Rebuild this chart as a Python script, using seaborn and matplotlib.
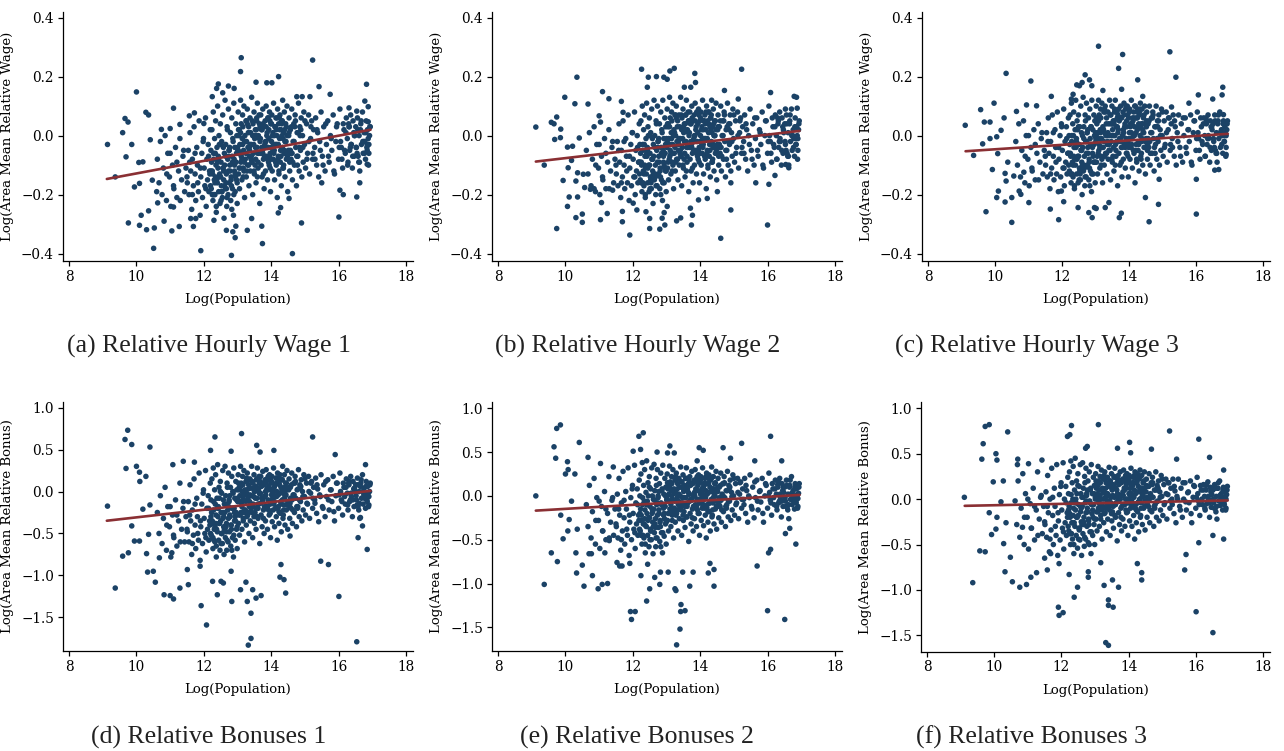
import matplotlib
matplotlib.use("Agg")
import matplotlib.pyplot as plt
import pandas as pd
import seaborn as sns
from matplotlib.ticker import FuncFormatter

# Log population of the areas (shared by every panel), grouped in rows of ten
core_x = [
    10.62, 10.67, 10.71, 10.76, 10.8, 10.85, 10.89, 10.93, 10.98, 11.02,
    11.07, 11.11, 11.16, 11.2, 11.25, 11.29, 11.34, 11.38, 11.43, 11.47,
    11.51, 11.54, 11.56, 11.59, 11.61, 11.64, 11.66, 11.69, 11.71, 11.74,
    11.76, 11.79, 11.81, 11.84, 11.86, 11.89, 11.91, 11.94, 11.96, 11.99,
    12.01, 12.03, 12.05, 12.07, 12.09, 12.11, 12.13, 12.15, 12.17, 12.19,
    12.21, 12.22, 12.24, 12.25, 12.27, 12.28, 12.29, 12.31, 12.32, 12.33,
    12.35, 12.36, 12.37, 12.39, 12.4, 12.41, 12.43, 12.44, 12.45, 12.47,
    12.48, 12.49, 12.51, 12.52, 12.53, 12.55, 12.56, 12.57, 12.59, 12.6,
    12.61, 12.63, 12.64, 12.65, 12.67, 12.68, 12.69, 12.71, 12.72, 12.73,
    12.75, 12.76, 12.77, 12.79, 12.8, 12.81, 12.83, 12.84, 12.85, 12.87,
    12.88, 12.89, 12.91, 12.92, 12.93, 12.95, 12.96, 12.97, 12.98, 12.99,
    13.01, 13.02, 13.03, 13.05, 13.06, 13.07, 13.09, 13.1, 13.11, 13.13,
    13.14, 13.15, 13.17, 13.18, 13.19, 13.21, 13.22, 13.23, 13.25, 13.26,
    13.27, 13.29, 13.3, 13.31, 13.33, 13.34, 13.35, 13.37, 13.38, 13.39,
    13.41, 13.42, 13.43, 13.45, 13.46, 13.47, 13.49, 13.5, 13.51, 13.53,
    13.54, 13.55, 13.57, 13.58, 13.59, 13.61, 13.62, 13.63, 13.65, 13.66,
    13.67, 13.69, 13.7, 13.71, 13.73, 13.74, 13.75, 13.77, 13.78, 13.79,
    13.81, 13.82, 13.83, 13.85, 13.86, 13.87, 13.89, 13.9, 13.91, 13.93,
    13.94, 13.95, 13.97, 13.98, 13.99, 14.01, 14.02, 14.03, 14.05, 14.06,
    14.07, 14.09, 14.1, 14.11, 14.13, 14.14, 14.15, 14.17, 14.18, 14.19,
    14.21, 14.22, 14.23, 14.25, 14.26, 14.27, 14.29, 14.3, 14.31, 14.33,
    14.34, 14.35, 14.37, 14.38, 14.39, 14.41, 14.42, 14.43, 14.45, 14.47,
    14.49, 14.51, 14.53, 14.55, 14.57, 14.59, 14.61, 14.63, 14.65, 14.67,
    14.69, 14.71, 14.73, 14.75, 14.77, 14.79, 14.81, 14.83, 14.85, 14.87,
    14.89, 14.91, 14.93, 14.95, 14.97, 14.99, 15.02, 15.05, 15.08, 15.11,
    15.14, 15.17, 15.2, 15.23, 15.26, 15.29, 15.32, 15.35, 15.38, 15.41,
    15.44, 15.48, 15.52, 15.56, 15.6, 15.64, 15.68, 15.72, 15.76, 15.8,
    15.84, 15.88, 15.92, 15.96, 16.0, 16.04, 16.08, 16.12, 16.16, 16.2,
    16.23, 16.26, 16.28, 16.31, 16.33, 16.36, 16.38, 16.41, 16.43, 16.46,
    16.48, 16.51, 16.53, 16.56, 16.58, 16.61, 16.63, 16.66, 16.68, 16.71,
    16.73, 16.76, 16.78, 16.8, 16.82, 16.84, 16.86, 16.88, 16.9, 16.93,
    12.5, 12.54, 12.58, 12.62, 12.66, 12.7, 12.74, 12.78, 12.82, 12.86,
    12.9, 12.94, 13.0, 13.04, 13.08, 13.12, 13.16, 13.2, 13.24, 13.28,
    13.32, 13.36, 13.4, 13.44, 13.48, 13.52, 13.56, 13.6, 13.64, 13.68,
    13.72, 13.76, 13.8, 13.84, 13.88, 13.92, 13.96, 14.0, 14.04, 14.08,
    14.12, 14.16, 14.2, 14.24, 14.28, 14.32, 14.36, 14.4, 14.44, 14.48,
    14.52, 14.56, 14.6, 14.64, 14.68, 14.72, 14.76, 14.8, 14.84, 14.88,
    16.35, 16.45, 16.55, 16.65, 16.75, 16.85, 16.92, 16.3, 16.6, 16.9,
    12.2, 12.23, 12.26, 12.3, 12.34, 12.38, 12.42, 12.46, 13.02, 13.5,
    12.21, 12.25, 12.29, 12.33, 12.37, 12.41, 12.45, 12.49, 12.53, 12.57,
    12.61, 12.65, 12.69, 12.73, 12.77, 12.81, 12.85, 12.89, 12.93, 12.97,
    13.01, 13.05, 13.09, 13.13, 13.17, 13.21, 13.25, 13.29, 13.33, 13.37,
    13.41, 13.45, 13.49, 13.53, 13.57, 13.61, 13.65, 13.69, 13.73, 13.77,
    13.81, 13.85, 13.89, 13.93, 13.97, 14.01, 14.05, 14.09, 14.13, 14.17,
    14.21, 14.25, 14.29, 14.33, 14.37, 14.41, 14.45, 14.49, 14.53, 14.57,
    13.03, 13.11, 13.19, 13.27, 13.35, 13.43, 13.51, 13.59, 13.67, 13.75,
    13.83, 13.91, 13.99, 14.07, 14.15, 14.23, 14.31, 14.39, 14.47, 14.55,
    14.62, 14.7, 14.78, 14.86, 14.94, 15.0, 15.06, 15.12, 15.18, 15.24,
    15.3, 15.36, 15.46, 15.54, 15.62, 15.7, 15.78, 15.86, 15.94, 16.02,
    16.06, 16.1, 16.14, 16.18, 16.22, 16.27, 16.32, 16.37, 16.42, 16.47,
    16.52, 16.57, 16.62, 16.67, 16.72, 16.77, 16.81, 16.85, 16.89, 16.94,
    11.5, 11.58, 11.66, 11.74, 11.82, 11.9, 11.98, 12.06, 12.14, 12.18,
    12.27, 12.35, 12.43, 12.51, 12.59, 12.67, 12.75, 12.83, 12.91, 12.99,
    10.9, 11.0, 11.1, 11.2, 11.3, 11.4, 13.15, 13.55, 13.95, 14.35,
]

wage1_core = [
    -0.08, -0.16, -0.02, -0.2, -0.11, 0.0, -0.22, -0.06, -0.14, -0.24,
    -0.1, -0.18, -0.04, -0.21, -0.12, -0.01, -0.15, -0.07, -0.19, -0.11,
    -0.16, -0.05, -0.2, 0.01, -0.12, -0.25, -0.08, -0.17, 0.03, -0.13,
    -0.22, -0.04, -0.1, -0.19, 0.05, -0.27, -0.14, -0.06, -0.21, -0.01,
    -0.11, -0.17, 0.06, -0.24, -0.08, -0.15, -0.03, -0.19, -0.12, 0.02,
    -0.05, -0.18, 0.02, -0.12, -0.22, 0.08, -0.08, -0.15, -0.01, -0.2,
    0.05, -0.1, -0.26, -0.04, -0.16, 0.1, -0.07, -0.19, 0.0, -0.13,
    -0.23, 0.04, -0.09, -0.17, -0.02, -0.21, 0.07, -0.11, -0.15, -0.28,
    -0.06, 0.12, -0.18, -0.03, -0.13, -0.24, 0.03, -0.08, -0.2, 0.09,
    -0.05, -0.16, -0.1, 0.01, -0.22, -0.14, 0.06, -0.07, -0.18, -0.02,
    -0.27, 0.11, -0.12, -0.04, -0.19, 0.04, -0.09, -0.15, 0.0, -0.23,
    -0.06, 0.08, -0.13, 0.02, -0.18, -0.03, 0.12, -0.09, 0.04, -0.15,
    -0.01, 0.07, -0.11, -0.05, 0.1, -0.21, 0.0, -0.08, 0.05, -0.14,
    -0.02, 0.09, -0.1, -0.04, 0.03, -0.17, -0.07, 0.06, -0.12, 0.01,
    -0.03, 0.13, -0.09, -0.2, 0.04, -0.06, 0.08, -0.13, -0.01, 0.02,
    -0.08, -0.16, 0.06, -0.04, 0.11, -0.11, 0.0, -0.06, 0.04, -0.23,
    -0.02, 0.07, -0.1, 0.02, -0.14, -0.05, 0.09, -0.08, 0.03, -0.18,
    -0.03, 0.05, -0.12, 0.1, -0.07, 0.0, -0.15, 0.06, -0.04, 0.02,
    -0.1, 0.08, -0.06, -0.19, 0.04, -0.02, 0.07, -0.12, 0.01, -0.08,
    0.11, -0.05, -0.15, 0.03, -0.03, 0.06, -0.1, 0.0, -0.21, 0.09,
    -0.07, 0.04, -0.13, -0.01, 0.07, -0.09, 0.02, -0.17, 0.05, -0.04,
    0.12, -0.11, 0.01, -0.06, 0.08, -0.14, -0.02, 0.04, -0.08, 0.1,
    -0.19, -0.05, 0.06, -0.12, 0.02, -0.08, 0.09, -0.15, -0.02, 0.04,
    -0.1, 0.07, -0.04, -0.17, 0.01, -0.07, 0.11, -0.12, 0.03, -0.05,
    0.06, -0.14, 0.0, -0.09, 0.08, -0.03, -0.11, 0.04, -0.06, 0.07,
    -0.13, -0.01, 0.05, -0.08, 0.02, -0.04, 0.06, -0.1, 0.01, -0.14,
    -0.02, 0.08, -0.07, 0.03, -0.12, -0.03, 0.05, -0.09, 0.0, -0.05,
    0.07, -0.13, -0.02, 0.04, -0.08, 0.09, -0.04, -0.11, 0.02, -0.06,
    0.06, -0.01, -0.09, 0.03, -0.05, 0.07, -0.03, -0.11, 0.05, -0.07,
    0.0, 0.03, -0.04, 0.06, -0.07, 0.0, -0.12, 0.04, -0.03, 0.08,
    -0.06, 0.01, -0.02, -0.08, 0.05, -0.04, 0.02, -0.01, -0.06, 0.03,
    -0.14, -0.19, -0.04, -0.1, -0.16, 0.02, -0.07, -0.12, -0.17, -0.01,
    -0.08, -0.14, -0.04, 0.0, -0.11, -0.06, 0.03, -0.09, -0.02, -0.12,
    0.01, -0.05, -0.08, 0.05, -0.03, -0.1, 0.02, -0.06, 0.07, -0.01,
    -0.04, 0.04, -0.07, -0.02, 0.01, -0.09, 0.05, -0.04, 0.0, -0.06,
    0.03, -0.03, -0.08, 0.06, -0.05, 0.0, -0.11, 0.02, -0.02, -0.07,
    0.0, -0.06, 0.03, -0.09, -0.02, 0.05, -0.07, 0.01, -0.04, 0.02,
    -0.04, 0.01, -0.06, 0.02, -0.02, -0.05, 0.0, 0.04, -0.09, -0.03,
    -0.17, -0.09, -0.13, -0.2, -0.06, -0.15, -0.11, -0.03, -0.05, 0.0,
    -0.12, -0.2, -0.06, -0.16, -0.24, -0.09, -0.14, -0.03, -0.19, -0.11,
    -0.17, -0.07, -0.21, -0.12, -0.04, -0.15, -0.09, -0.2, -0.13, -0.06,
    -0.05, -0.11, 0.01, -0.08, -0.14, -0.02, -0.06, 0.04, -0.1, -0.03,
    -0.07, 0.0, -0.12, -0.04, 0.05, -0.09, -0.01, -0.06, 0.02, -0.13,
    -0.04, 0.03, -0.08, -0.01, -0.11, 0.04, -0.05, 0.0, -0.09, 0.06,
    -0.03, 0.02, -0.07, 0.05, -0.1, -0.02, 0.03, -0.06, 0.01, -0.05,
    0.02, -0.07, -0.12, 0.05, -0.04, -0.09, 0.0, -0.14, 0.03, -0.06,
    -0.02, 0.06, -0.08, -0.03, 0.02, -0.12, 0.04, -0.05, 0.0, -0.09,
    -0.06, 0.03, -0.1, 0.0, -0.04, 0.05, -0.08, -0.02, 0.03, -0.06,
    -0.08, 0.02, -0.05, -0.1, 0.04, -0.07, -0.01, -0.12, 0.03, -0.04,
    -0.02, -0.08, 0.04, -0.05, 0.01, -0.1, 0.03, -0.03, -0.07, 0.0,
    -0.04, 0.02, -0.09, 0.05, -0.02, -0.06, 0.01, -0.03, -0.1, 0.03,
    -0.14, -0.09, -0.2, -0.06, -0.16, -0.11, -0.02, -0.18, -0.07, -0.13,
    -0.2, -0.14, -0.08, -0.22, -0.12, -0.18, -0.05, -0.25, -0.1, -0.16,
    -0.13, -0.06, -0.17, -0.09, -0.22, -0.05, -0.03, 0.0, -0.07, -0.01,
]

wage2_core = [
    -0.05, -0.13, 0.01, -0.17, -0.08, 0.03, -0.19, -0.03, -0.11, -0.2,
    -0.07, -0.15, -0.01, -0.18, -0.09, 0.02, -0.12, -0.04, -0.16, -0.08,
    -0.13, -0.02, -0.17, 0.04, -0.09, -0.21, -0.05, -0.14, 0.05, -0.1,
    -0.18, -0.01, -0.07, -0.16, 0.07, -0.22, -0.11, -0.03, -0.17, 0.01,
    -0.08, -0.14, 0.08, -0.2, -0.05, -0.12, 0.0, -0.16, -0.09, 0.04,
    -0.03, -0.15, 0.05, -0.09, -0.19, 0.1, -0.05, -0.12, 0.02, -0.17,
    0.07, -0.07, -0.21, -0.01, -0.13, 0.11, -0.04, -0.16, 0.03, -0.1,
    -0.19, 0.06, -0.06, -0.14, 0.01, -0.18, 0.09, -0.08, -0.12, -0.23,
    -0.03, 0.12, -0.15, 0.0, -0.1, -0.2, 0.05, -0.05, -0.17, 0.1,
    -0.02, -0.13, -0.07, 0.04, -0.18, -0.11, 0.08, -0.04, -0.15, 0.01,
    -0.22, 0.12, -0.09, -0.01, -0.16, 0.06, -0.06, -0.12, 0.03, -0.19,
    -0.04, 0.09, -0.11, 0.04, -0.15, -0.01, 0.13, -0.07, 0.06, -0.13,
    0.01, 0.08, -0.09, -0.03, 0.11, -0.18, 0.02, -0.06, 0.07, -0.12,
    0.0, 0.1, -0.08, -0.02, 0.05, -0.15, -0.05, 0.07, -0.1, 0.03,
    -0.01, 0.13, -0.07, -0.17, 0.06, -0.04, 0.09, -0.11, 0.01, 0.04,
    -0.06, -0.14, 0.07, -0.02, 0.12, -0.09, 0.02, -0.04, 0.05, -0.19,
    0.0, 0.08, -0.08, 0.04, -0.12, -0.03, 0.1, -0.06, 0.05, -0.16,
    -0.01, 0.07, -0.1, 0.11, -0.05, 0.02, -0.13, 0.08, -0.02, 0.04,
    -0.08, 0.09, -0.04, -0.16, 0.05, 0.0, 0.08, -0.1, 0.03, -0.06,
    0.12, -0.03, -0.13, 0.05, -0.01, 0.07, -0.08, 0.02, -0.18, 0.1,
    -0.05, 0.05, -0.11, 0.01, 0.08, -0.07, 0.03, -0.14, 0.06, -0.02,
    0.12, -0.09, 0.03, -0.04, 0.09, -0.12, 0.0, 0.05, -0.06, 0.11,
    -0.15, -0.03, 0.07, -0.1, 0.03, -0.06, 0.1, -0.12, 0.0, 0.05,
    -0.08, 0.08, -0.02, -0.14, 0.02, -0.05, 0.11, -0.1, 0.04, -0.03,
    0.07, -0.12, 0.01, -0.07, 0.09, -0.01, -0.09, 0.05, -0.04, 0.08,
    -0.11, 0.01, 0.06, -0.06, 0.03, -0.02, 0.07, -0.08, 0.02, -0.12,
    0.0, 0.09, -0.05, 0.04, -0.1, -0.01, 0.06, -0.07, 0.02, -0.03,
    0.08, -0.11, 0.0, 0.05, -0.06, 0.1, -0.02, -0.09, 0.03, -0.04,
    0.07, 0.0, -0.08, 0.04, -0.04, 0.08, -0.02, -0.1, 0.06, -0.06,
    0.01, 0.04, -0.03, 0.07, -0.06, 0.01, -0.1, 0.05, -0.02, 0.09,
    -0.05, 0.02, -0.01, -0.07, 0.06, -0.03, 0.03, 0.0, -0.05, 0.04,
    -0.1, -0.16, -0.01, -0.07, -0.13, 0.04, -0.04, -0.09, -0.14, 0.02,
    -0.05, -0.11, -0.01, 0.03, -0.08, -0.03, 0.05, -0.06, 0.01, -0.09,
    0.03, -0.03, -0.06, 0.07, -0.01, -0.08, 0.04, -0.04, 0.08, 0.01,
    -0.02, 0.06, -0.05, 0.0, 0.03, -0.07, 0.07, -0.02, 0.02, -0.04,
    0.05, -0.01, -0.06, 0.08, -0.03, 0.02, -0.09, 0.04, 0.0, -0.05,
    0.02, -0.04, 0.05, -0.07, 0.0, 0.07, -0.05, 0.03, -0.02, 0.04,
    -0.02, 0.03, -0.05, 0.04, 0.0, -0.03, 0.02, 0.06, -0.07, -0.01,
    -0.13, -0.06, -0.1, -0.16, -0.03, -0.11, -0.07, 0.0, -0.02, 0.03,
    -0.09, -0.16, -0.03, -0.13, -0.2, -0.06, -0.11, 0.0, -0.15, -0.08,
    -0.13, -0.04, -0.17, -0.09, -0.01, -0.12, -0.06, -0.16, -0.1, -0.03,
    -0.03, -0.09, 0.03, -0.06, -0.12, 0.0, -0.04, 0.06, -0.08, -0.01,
    -0.05, 0.02, -0.1, -0.02, 0.07, -0.07, 0.01, -0.04, 0.04, -0.11,
    -0.02, 0.05, -0.06, 0.01, -0.09, 0.06, -0.03, 0.02, -0.07, 0.08,
    -0.01, 0.04, -0.05, 0.07, -0.08, 0.0, 0.05, -0.04, 0.03, -0.03,
    0.04, -0.05, -0.1, 0.07, -0.02, -0.07, 0.02, -0.12, 0.05, -0.04,
    0.0, 0.08, -0.06, -0.01, 0.04, -0.1, 0.06, -0.03, 0.02, -0.07,
    -0.04, 0.05, -0.08, 0.02, -0.02, 0.07, -0.06, 0.0, 0.05, -0.04,
    -0.06, 0.04, -0.03, -0.08, 0.06, -0.05, 0.01, -0.1, 0.05, -0.02,
    0.0, -0.06, 0.06, -0.03, 0.03, -0.08, 0.05, -0.01, -0.05, 0.02,
    -0.02, 0.04, -0.07, 0.07, 0.0, -0.04, 0.03, -0.01, -0.08, 0.05,
    -0.1, -0.05, -0.16, -0.02, -0.12, -0.07, 0.01, -0.14, -0.04, -0.09,
    -0.16, -0.1, -0.05, -0.18, -0.08, -0.14, -0.02, -0.2, -0.07, -0.12,
    -0.1, -0.03, -0.14, -0.06, -0.18, -0.02, -0.01, 0.02, -0.05, 0.01,
]

wage3_core = [
    -0.02, -0.1, 0.04, -0.14, -0.05, 0.05, -0.16, 0.0, -0.08, -0.17,
    -0.04, -0.12, 0.02, -0.15, -0.06, 0.04, -0.09, -0.01, -0.13, -0.05,
    -0.1, 0.01, -0.14, 0.06, -0.06, -0.18, -0.02, -0.11, 0.07, -0.07,
    -0.15, 0.02, -0.04, -0.13, 0.08, -0.19, -0.08, 0.0, -0.14, 0.03,
    -0.05, -0.11, 0.09, -0.17, -0.02, -0.09, 0.03, -0.13, -0.06, 0.06,
    0.0, -0.12, 0.07, -0.06, -0.16, 0.11, -0.02, -0.09, 0.04, -0.14,
    0.08, -0.04, -0.18, 0.02, -0.1, 0.12, -0.01, -0.13, 0.05, -0.07,
    -0.16, 0.07, -0.03, -0.11, 0.03, -0.15, 0.1, -0.05, -0.09, -0.2,
    0.0, 0.13, -0.12, 0.03, -0.07, -0.17, 0.07, -0.02, -0.14, 0.11,
    0.01, -0.1, -0.04, 0.06, -0.15, -0.08, 0.09, -0.01, -0.12, 0.03,
    -0.19, 0.12, -0.06, 0.02, -0.13, 0.07, -0.03, -0.09, 0.05, -0.16,
    -0.02, 0.1, -0.09, 0.05, -0.13, 0.01, 0.12, -0.05, 0.07, -0.11,
    0.02, 0.09, -0.07, -0.01, 0.11, -0.16, 0.03, -0.04, 0.08, -0.1,
    0.01, 0.1, -0.06, 0.0, 0.06, -0.13, -0.03, 0.08, -0.08, 0.04,
    0.0, 0.12, -0.05, -0.15, 0.07, -0.02, 0.1, -0.09, 0.02, 0.05,
    -0.04, -0.12, 0.08, 0.0, 0.12, -0.07, 0.03, -0.02, 0.06, -0.17,
    0.01, 0.09, -0.06, 0.05, -0.1, -0.01, 0.1, -0.04, 0.06, -0.14,
    0.0, 0.08, -0.08, 0.11, -0.03, 0.03, -0.11, 0.09, -0.01, 0.05,
    -0.06, 0.1, -0.02, -0.14, 0.06, 0.01, 0.09, -0.08, 0.04, -0.04,
    0.12, -0.01, -0.11, 0.06, 0.0, 0.08, -0.06, 0.03, -0.16, 0.1,
    -0.03, 0.06, -0.09, 0.02, 0.09, -0.05, 0.04, -0.12, 0.07, 0.0,
    0.11, -0.07, 0.04, -0.02, 0.09, -0.1, 0.01, 0.06, -0.04, 0.1,
    -0.13, -0.01, 0.08, -0.08, 0.04, -0.04, 0.1, -0.1, 0.01, 0.06,
    -0.06, 0.08, -0.01, -0.12, 0.03, -0.03, 0.1, -0.08, 0.05, -0.02,
    0.07, -0.1, 0.02, -0.05, 0.09, 0.0, -0.07, 0.05, -0.03, 0.08,
    -0.09, 0.02, 0.06, -0.05, 0.04, -0.01, 0.07, -0.07, 0.03, -0.1,
    0.01, 0.07, -0.04, 0.04, -0.09, 0.0, 0.06, -0.06, 0.02, -0.02,
    0.07, -0.1, 0.01, 0.05, -0.05, 0.08, -0.01, -0.08, 0.03, -0.03,
    0.06, 0.0, -0.07, 0.04, -0.03, 0.07, -0.01, -0.09, 0.05, -0.05,
    0.02, 0.04, -0.02, 0.07, -0.05, 0.01, -0.09, 0.05, -0.01, 0.08,
    -0.04, 0.02, 0.0, -0.06, 0.05, -0.02, 0.03, 0.01, -0.04, 0.04,
    -0.07, -0.13, 0.01, -0.04, -0.1, 0.05, -0.02, -0.06, -0.11, 0.03,
    -0.03, -0.09, 0.01, 0.04, -0.06, -0.01, 0.06, -0.04, 0.02, -0.07,
    0.04, -0.02, -0.05, 0.07, 0.0, -0.07, 0.05, -0.03, 0.08, 0.02,
    -0.01, 0.06, -0.04, 0.01, 0.04, -0.06, 0.07, -0.01, 0.03, -0.03,
    0.05, 0.0, -0.05, 0.08, -0.02, 0.03, -0.08, 0.04, 0.01, -0.04,
    0.03, -0.03, 0.05, -0.06, 0.01, 0.07, -0.04, 0.03, -0.01, 0.05,
    -0.01, 0.03, -0.04, 0.04, 0.01, -0.02, 0.02, 0.06, -0.06, 0.0,
    -0.1, -0.03, -0.07, -0.13, 0.0, -0.08, -0.04, 0.02, 0.0, 0.04,
    -0.06, -0.13, 0.0, -0.1, -0.17, -0.03, -0.08, 0.03, -0.12, -0.05,
    -0.1, -0.01, -0.14, -0.06, 0.02, -0.09, -0.03, -0.13, -0.07, 0.0,
    -0.01, -0.07, 0.05, -0.04, -0.1, 0.02, -0.02, 0.08, -0.06, 0.01,
    -0.03, 0.04, -0.08, 0.0, 0.09, -0.05, 0.03, -0.02, 0.06, -0.09,
    0.0, 0.07, -0.04, 0.03, -0.07, 0.08, -0.01, 0.04, -0.05, 0.1,
    0.01, 0.06, -0.03, 0.09, -0.06, 0.02, 0.07, -0.02, 0.05, -0.01,
    0.06, -0.03, -0.08, 0.09, 0.0, -0.05, 0.04, -0.1, 0.07, -0.02,
    0.02, 0.1, -0.04, 0.01, 0.06, -0.08, 0.08, -0.01, 0.04, -0.05,
    -0.02, 0.06, -0.06, 0.03, 0.0, 0.08, -0.04, 0.01, 0.06, -0.03,
    -0.04, 0.05, -0.02, -0.07, 0.06, -0.04, 0.02, -0.09, 0.05, -0.01,
    0.01, -0.05, 0.06, -0.02, 0.04, -0.07, 0.05, 0.0, -0.04, 0.03,
    -0.01, 0.05, -0.06, 0.07, 0.01, -0.03, 0.04, 0.0, -0.07, 0.05,
    -0.07, -0.02, -0.13, 0.01, -0.09, -0.04, 0.04, -0.11, -0.01, -0.06,
    -0.13, -0.07, -0.02, -0.15, -0.05, -0.11, 0.01, -0.17, -0.04, -0.09,
    -0.07, 0.0, -0.11, -0.03, -0.15, 0.01, 0.01, 0.04, -0.03, 0.03,
]

bonus1_core = [
    -0.25, -0.5, -0.05, -0.62, -0.32, 0.05, -0.7, -0.18, -0.42, -0.78,
    -0.28, -0.55, -0.1, -0.65, -0.35, 0.1, -0.45, -0.2, -0.6, -0.3,
    -0.48, -0.12, -0.6, 0.08, -0.35, -0.75, -0.22, -0.52, 0.15, -0.4,
    -0.68, -0.08, -0.3, -0.58, 0.22, -0.82, -0.42, -0.15, -0.62, 0.02,
    -0.32, -0.5, 0.25, -0.72, -0.2, -0.45, -0.05, -0.58, -0.35, 0.1,
    -0.1, -0.52, 0.15, -0.35, -0.68, 0.28, -0.22, -0.45, 0.02, -0.6,
    0.2, -0.28, -0.78, -0.08, -0.48, 0.32, -0.18, -0.58, 0.05, -0.38,
    -0.7, 0.12, -0.25, -0.5, -0.02, -0.62, 0.25, -0.32, -0.42, -0.75,
    -0.15, 0.3, -0.55, -0.05, -0.38, -0.7, 0.1, -0.22, -0.6, 0.22,
    -0.12, -0.48, -0.28, 0.05, -0.65, -0.4, 0.18, -0.2, -0.55, -0.02,
    -0.78, 0.28, -0.35, -0.08, -0.58, 0.12, -0.25, -0.45, 0.02, -0.68,
    -0.12, 0.2, -0.38, 0.05, -0.52, -0.05, 0.3, -0.25, 0.1, -0.45,
    0.0, 0.18, -0.32, -0.1, 0.25, -0.6, 0.02, -0.22, 0.12, -0.4,
    -0.02, 0.22, -0.28, -0.08, 0.08, -0.5, -0.18, 0.15, -0.35, 0.04,
    -0.05, 0.3, -0.25, -0.55, 0.1, -0.15, 0.2, -0.38, 0.0, 0.06,
    -0.2, -0.45, 0.15, -0.08, 0.28, -0.32, 0.02, -0.15, 0.1, -0.62,
    -0.03, 0.18, -0.28, 0.06, -0.42, -0.12, 0.24, -0.22, 0.08, -0.5,
    -0.06, 0.14, -0.35, 0.26, -0.18, 0.02, -0.45, 0.16, -0.1, 0.06,
    -0.28, 0.2, -0.15, -0.55, 0.1, -0.04, 0.18, -0.36, 0.03, -0.22,
    0.28, -0.12, -0.42, 0.08, -0.06, 0.16, -0.3, 0.0, -0.58, 0.22,
    -0.18, 0.1, -0.38, -0.02, 0.2, -0.26, 0.05, -0.48, 0.14, -0.1,
    0.3, -0.32, 0.03, -0.16, 0.2, -0.4, -0.05, 0.1, -0.22, 0.25,
    -0.45, -0.12, 0.15, -0.32, 0.05, -0.2, 0.22, -0.38, -0.04, 0.1,
    -0.25, 0.18, -0.08, -0.42, 0.02, -0.18, 0.26, -0.3, 0.08, -0.12,
    0.14, -0.35, 0.0, -0.22, 0.2, -0.06, -0.28, 0.1, -0.15, 0.18,
    -0.32, -0.02, 0.12, -0.2, 0.05, -0.1, 0.16, -0.26, 0.03, -0.36,
    -0.04, 0.2, -0.18, 0.08, -0.3, -0.06, 0.14, -0.22, 0.02, -0.12,
    0.18, -0.35, -0.05, 0.1, -0.2, 0.22, -0.1, -0.28, 0.05, -0.15,
    0.15, -0.02, -0.22, 0.08, -0.12, 0.18, -0.06, -0.3, 0.12, -0.18,
    0.02, 0.08, -0.1, 0.16, -0.18, 0.0, -0.32, 0.1, -0.08, 0.2,
    -0.15, 0.04, -0.05, -0.2, 0.12, -0.1, 0.06, -0.02, -0.16, 0.08,
    -0.35, -0.5, -0.1, -0.25, -0.42, 0.05, -0.18, -0.3, -0.45, 0.0,
    -0.2, -0.35, -0.08, 0.02, -0.28, -0.14, 0.08, -0.22, -0.04, -0.3,
    0.03, -0.12, -0.2, 0.12, -0.06, -0.25, 0.06, -0.15, 0.18, -0.02,
    -0.08, 0.1, -0.18, -0.04, 0.04, -0.22, 0.14, -0.1, 0.0, -0.15,
    0.08, -0.06, -0.2, 0.15, -0.12, 0.02, -0.28, 0.05, -0.04, -0.16,
    0.02, -0.14, 0.08, -0.22, -0.04, 0.12, -0.18, 0.03, -0.1, 0.06,
    -0.1, 0.03, -0.16, 0.06, -0.04, -0.12, 0.0, 0.1, -0.22, -0.06,
    -0.5, -0.25, -0.38, -0.58, -0.15, -0.45, -0.3, -0.08, -0.12, 0.0,
    -0.3, -0.55, -0.12, -0.42, -0.65, -0.2, -0.38, 0.0, -0.5, -0.25,
    -0.45, -0.15, -0.58, -0.32, -0.05, -0.4, -0.2, -0.52, -0.3, -0.1,
    -0.1, -0.28, 0.06, -0.18, -0.35, 0.0, -0.12, 0.12, -0.25, -0.04,
    -0.15, 0.04, -0.3, -0.08, 0.14, -0.2, -0.02, -0.14, 0.08, -0.32,
    -0.06, 0.1, -0.18, 0.02, -0.26, 0.12, -0.08, 0.05, -0.2, 0.16,
    -0.04, 0.08, -0.15, 0.14, -0.22, 0.0, 0.1, -0.12, 0.05, -0.08,
    0.1, -0.12, -0.25, 0.16, -0.05, -0.18, 0.04, -0.3, 0.12, -0.1,
    0.0, 0.18, -0.14, -0.04, 0.1, -0.24, 0.14, -0.08, 0.04, -0.18,
    -0.1, 0.1, -0.2, 0.04, -0.06, 0.15, -0.14, 0.0, 0.1, -0.08,
    -0.14, 0.08, -0.06, -0.2, 0.12, -0.1, 0.02, -0.24, 0.1, -0.04,
    0.0, -0.12, 0.1, -0.06, 0.05, -0.16, 0.12, -0.02, -0.1, 0.04,
    -0.05, 0.08, -0.14, 0.14, 0.0, -0.08, 0.06, -0.02, -0.18, 0.1,
    -0.45, -0.28, -0.62, -0.15, -0.5, -0.35, -0.02, -0.55, -0.2, -0.4,
    -0.55, -0.38, -0.2, -0.62, -0.3, -0.48, -0.1, -0.7, -0.25, -0.42,
    -0.4, -0.18, -0.52, -0.28, -0.6, -0.12, -0.06, 0.02, -0.12, -0.02,
]

bonus2_core = [
    -0.1, -0.35, 0.12, -0.48, -0.18, 0.2, -0.55, -0.02, -0.28, -0.6,
    -0.12, -0.4, 0.05, -0.5, -0.2, 0.22, -0.3, -0.05, -0.45, -0.15,
    -0.35, 0.02, -0.48, 0.2, -0.22, -0.62, -0.08, -0.4, 0.28, -0.25,
    -0.55, 0.05, -0.15, -0.45, 0.32, -0.68, -0.3, -0.02, -0.5, 0.12,
    -0.2, -0.38, 0.35, -0.6, -0.08, -0.32, 0.08, -0.45, -0.22, 0.18,
    0.0, -0.4, 0.25, -0.22, -0.55, 0.38, -0.1, -0.32, 0.12, -0.48,
    0.3, -0.16, -0.65, 0.04, -0.35, 0.4, -0.06, -0.45, 0.15, -0.25,
    -0.58, 0.22, -0.12, -0.38, 0.08, -0.5, 0.32, -0.2, -0.3, -0.66,
    -0.04, 0.36, -0.42, 0.06, -0.26, -0.58, 0.2, -0.1, -0.48, 0.3,
    -0.02, -0.36, -0.16, 0.14, -0.52, -0.28, 0.26, -0.08, -0.42, 0.08,
    -0.65, 0.35, -0.22, 0.02, -0.46, 0.2, -0.12, -0.32, 0.1, -0.55,
    -0.05, 0.25, -0.28, 0.12, -0.4, 0.02, 0.34, -0.15, 0.16, -0.35,
    0.06, 0.22, -0.22, -0.04, 0.3, -0.48, 0.08, -0.14, 0.18, -0.3,
    0.04, 0.26, -0.2, -0.02, 0.14, -0.4, -0.1, 0.2, -0.26, 0.1,
    0.0, 0.33, -0.16, -0.45, 0.16, -0.08, 0.24, -0.28, 0.05, 0.12,
    -0.12, -0.36, 0.2, -0.02, 0.32, -0.24, 0.08, -0.08, 0.14, -0.52,
    0.02, 0.22, -0.2, 0.12, -0.32, -0.05, 0.28, -0.15, 0.14, -0.4,
    0.0, 0.18, -0.26, 0.3, -0.1, 0.08, -0.35, 0.2, -0.04, 0.12,
    -0.2, 0.24, -0.08, -0.45, 0.15, 0.02, 0.22, -0.28, 0.08, -0.14,
    0.32, -0.05, -0.34, 0.14, 0.0, 0.2, -0.22, 0.06, -0.48, 0.26,
    -0.1, 0.14, -0.3, 0.04, 0.24, -0.18, 0.1, -0.4, 0.18, -0.04,
    0.33, -0.24, 0.08, -0.08, 0.22, -0.32, 0.01, 0.14, -0.15, 0.28,
    -0.38, -0.06, 0.2, -0.25, 0.1, -0.12, 0.26, -0.3, 0.02, 0.14,
    -0.18, 0.22, -0.02, -0.35, 0.06, -0.1, 0.28, -0.24, 0.12, -0.06,
    0.18, -0.28, 0.04, -0.16, 0.24, 0.0, -0.22, 0.14, -0.08, 0.2,
    -0.26, 0.02, 0.16, -0.14, 0.08, -0.04, 0.2, -0.2, 0.06, -0.3,
    0.0, 0.24, -0.12, 0.1, -0.25, -0.02, 0.18, -0.16, 0.05, -0.07,
    0.2, -0.3, 0.0, 0.12, -0.14, 0.26, -0.05, -0.22, 0.08, -0.1,
    0.18, 0.02, -0.16, 0.1, -0.08, 0.2, -0.02, -0.24, 0.14, -0.12,
    0.04, 0.1, -0.06, 0.18, -0.13, 0.02, -0.26, 0.12, -0.04, 0.22,
    -0.1, 0.06, -0.02, -0.15, 0.14, -0.06, 0.08, 0.0, -0.12, 0.1,
    -0.25, -0.4, 0.0, -0.15, -0.32, 0.12, -0.08, -0.2, -0.35, 0.06,
    -0.12, -0.26, 0.0, 0.08, -0.2, -0.06, 0.14, -0.15, 0.03, -0.22,
    0.08, -0.06, -0.14, 0.16, -0.02, -0.18, 0.1, -0.1, 0.2, 0.02,
    -0.04, 0.14, -0.12, 0.0, 0.06, -0.16, 0.18, -0.06, 0.04, -0.1,
    0.12, -0.02, -0.14, 0.2, -0.08, 0.05, -0.22, 0.08, 0.0, -0.12,
    0.05, -0.1, 0.12, -0.16, 0.0, 0.15, -0.12, 0.06, -0.06, 0.1,
    -0.06, 0.06, -0.12, 0.1, -0.01, -0.08, 0.03, 0.13, -0.16, -0.03,
    -0.38, -0.15, -0.28, -0.45, -0.06, -0.34, -0.2, 0.0, -0.04, 0.08,
    -0.2, -0.45, -0.02, -0.32, -0.55, -0.1, -0.28, 0.1, -0.4, -0.15,
    -0.35, -0.05, -0.48, -0.22, 0.05, -0.3, -0.1, -0.42, -0.2, 0.0,
    -0.04, -0.2, 0.1, -0.1, -0.28, 0.05, -0.06, 0.18, -0.16, 0.02,
    -0.08, 0.1, -0.22, -0.02, 0.2, -0.12, 0.04, -0.06, 0.14, -0.25,
    0.0, 0.16, -0.12, 0.06, -0.2, 0.18, -0.02, 0.1, -0.14, 0.22,
    0.02, 0.14, -0.08, 0.2, -0.16, 0.05, 0.15, -0.06, 0.1, -0.02,
    0.15, -0.06, -0.18, 0.22, 0.0, -0.12, 0.08, -0.24, 0.18, -0.04,
    0.04, 0.22, -0.08, 0.02, 0.14, -0.18, 0.2, -0.02, 0.08, -0.12,
    -0.05, 0.14, -0.14, 0.08, -0.01, 0.2, -0.1, 0.04, 0.15, -0.04,
    -0.1, 0.12, -0.02, -0.15, 0.16, -0.06, 0.06, -0.2, 0.14, 0.0,
    0.04, -0.08, 0.14, -0.02, 0.08, -0.12, 0.16, 0.02, -0.06, 0.1,
    -0.02, 0.12, -0.1, 0.18, 0.03, -0.05, 0.1, 0.01, -0.14, 0.14,
    -0.32, -0.15, -0.5, -0.05, -0.38, -0.22, 0.08, -0.42, -0.1, -0.28,
    -0.45, -0.26, -0.1, -0.5, -0.18, -0.36, 0.0, -0.58, -0.14, -0.3,
    -0.28, -0.06, -0.4, -0.15, -0.48, -0.02, 0.0, 0.1, -0.04, 0.06,
]

bonus3_core = [
    -0.02, -0.28, 0.2, -0.42, -0.1, 0.28, -0.5, 0.06, -0.2, -0.55,
    -0.05, -0.32, 0.12, -0.45, -0.12, 0.3, -0.22, 0.02, -0.38, -0.08,
    -0.28, 0.08, -0.42, 0.26, -0.15, -0.58, 0.0, -0.34, 0.34, -0.18,
    -0.5, 0.12, -0.08, -0.4, 0.38, -0.62, -0.24, 0.05, -0.45, 0.18,
    -0.12, -0.32, 0.4, -0.55, 0.0, -0.26, 0.14, -0.4, -0.15, 0.24,
    0.06, -0.35, 0.3, -0.16, -0.5, 0.42, -0.04, -0.26, 0.18, -0.44,
    0.36, -0.1, -0.6, 0.1, -0.3, 0.45, 0.0, -0.4, 0.2, -0.2,
    -0.54, 0.28, -0.06, -0.32, 0.14, -0.45, 0.38, -0.14, -0.25, -0.62,
    0.02, 0.4, -0.38, 0.12, -0.2, -0.52, 0.25, -0.04, -0.44, 0.34,
    0.04, -0.3, -0.1, 0.2, -0.48, -0.22, 0.3, -0.02, -0.36, 0.12,
    -0.6, 0.38, -0.16, 0.06, -0.4, 0.24, -0.06, -0.28, 0.15, -0.5,
    0.0, 0.28, -0.22, 0.16, -0.35, 0.06, 0.36, -0.1, 0.2, -0.3,
    0.1, 0.25, -0.18, 0.0, 0.32, -0.44, 0.12, -0.08, 0.22, -0.26,
    0.08, 0.3, -0.15, 0.02, 0.18, -0.36, -0.05, 0.24, -0.22, 0.14,
    0.04, 0.35, -0.12, -0.4, 0.2, -0.04, 0.28, -0.24, 0.1, 0.16,
    -0.08, -0.32, 0.24, 0.02, 0.34, -0.2, 0.12, -0.04, 0.18, -0.46,
    0.06, 0.26, -0.15, 0.16, -0.28, 0.0, 0.3, -0.1, 0.18, -0.35,
    0.04, 0.22, -0.22, 0.32, -0.06, 0.12, -0.3, 0.24, 0.0, 0.16,
    -0.15, 0.28, -0.04, -0.4, 0.18, 0.06, 0.26, -0.24, 0.12, -0.1,
    0.34, -0.02, -0.3, 0.18, 0.04, 0.24, -0.18, 0.1, -0.44, 0.3,
    -0.06, 0.18, -0.26, 0.08, 0.28, -0.14, 0.14, -0.36, 0.22, 0.0,
    0.32, -0.2, 0.12, -0.04, 0.26, -0.28, 0.05, 0.18, -0.1, 0.3,
    -0.34, -0.02, 0.22, -0.2, 0.14, -0.08, 0.28, -0.26, 0.06, 0.18,
    -0.14, 0.24, 0.02, -0.3, 0.1, -0.06, 0.3, -0.2, 0.15, -0.02,
    0.2, -0.24, 0.08, -0.12, 0.26, 0.03, -0.18, 0.16, -0.04, 0.22,
    -0.22, 0.05, 0.18, -0.1, 0.12, 0.0, 0.22, -0.16, 0.09, -0.26,
    0.03, 0.22, -0.08, 0.12, -0.2, 0.0, 0.18, -0.12, 0.07, -0.04,
    0.2, -0.26, 0.02, 0.14, -0.1, 0.24, -0.02, -0.18, 0.1, -0.06,
    0.16, 0.03, -0.12, 0.1, -0.05, 0.19, 0.0, -0.2, 0.13, -0.09,
    0.05, 0.1, -0.04, 0.16, -0.1, 0.03, -0.22, 0.12, -0.02, 0.2,
    -0.07, 0.06, 0.0, -0.12, 0.13, -0.04, 0.08, 0.02, -0.1, 0.1,
    -0.18, -0.32, 0.06, -0.08, -0.25, 0.18, -0.02, -0.14, -0.28, 0.1,
    -0.06, -0.2, 0.05, 0.12, -0.14, 0.0, 0.18, -0.1, 0.07, -0.16,
    0.12, -0.02, -0.1, 0.2, 0.02, -0.14, 0.14, -0.06, 0.24, 0.05,
    0.0, 0.18, -0.08, 0.04, 0.1, -0.12, 0.22, -0.02, 0.07, -0.06,
    0.15, 0.02, -0.1, 0.22, -0.04, 0.08, -0.18, 0.12, 0.03, -0.08,
    0.08, -0.06, 0.14, -0.12, 0.03, 0.18, -0.08, 0.1, -0.03, 0.12,
    -0.03, 0.08, -0.1, 0.12, 0.01, -0.06, 0.05, 0.15, -0.14, 0.0,
    -0.3, -0.08, -0.2, -0.38, 0.0, -0.26, -0.12, 0.06, 0.02, 0.12,
    -0.12, -0.38, 0.05, -0.26, -0.5, -0.04, -0.2, 0.15, -0.34, -0.08,
    -0.28, 0.02, -0.42, -0.15, 0.1, -0.24, -0.04, -0.36, -0.12, 0.06,
    0.02, -0.14, 0.15, -0.05, -0.22, 0.1, 0.0, 0.22, -0.1, 0.06,
    -0.02, 0.16, -0.16, 0.04, 0.25, -0.06, 0.1, 0.0, 0.2, -0.2,
    0.05, 0.2, -0.06, 0.12, -0.14, 0.22, 0.03, 0.15, -0.08, 0.26,
    0.06, 0.18, -0.03, 0.24, -0.1, 0.1, 0.2, -0.02, 0.15, 0.02,
    0.2, -0.02, -0.12, 0.26, 0.06, -0.06, 0.14, -0.18, 0.22, 0.0,
    0.08, 0.26, -0.04, 0.06, 0.18, -0.12, 0.24, 0.02, 0.12, -0.06,
    0.0, 0.16, -0.1, 0.1, 0.02, 0.22, -0.06, 0.06, 0.18, -0.02,
    -0.06, 0.14, 0.0, -0.12, 0.18, -0.03, 0.08, -0.16, 0.15, 0.02,
    0.06, -0.06, 0.15, 0.0, 0.1, -0.1, 0.16, 0.03, -0.04, 0.12,
    0.0, 0.12, -0.08, 0.18, 0.04, -0.03, 0.1, 0.02, -0.12, 0.14,
    -0.25, -0.08, -0.44, 0.02, -0.3, -0.15, 0.14, -0.36, -0.04, -0.2,
    -0.38, -0.18, -0.04, -0.44, -0.1, -0.28, 0.06, -0.5, -0.06, -0.22,
    -0.2, 0.0, -0.32, -0.08, -0.4, 0.04, 0.04, 0.14, 0.0, 0.1,
]

# Sparse areas at the edges of each cloud, as (log population, value)
wage1_edge = [
    (9.14, -0.03), (9.37, -0.14), (9.59, 0.01), (9.66, 0.058), (9.69, -0.072),
    (9.75, 0.046), (9.76, -0.296), (9.86, -0.03), (9.94, -0.174), (10.0, 0.148),
    (10.07, -0.091), (10.09, -0.162), (10.09, -0.304), (10.14, -0.27), (10.19, -0.089),
    (10.28, 0.079), (10.3, -0.319), (10.36, 0.07), (10.36, -0.255), (10.41, -0.014),
    (10.47, -0.151), (10.51, -0.382), (10.53, -0.313), (10.6, -0.19), (10.63, -0.228),
    (10.74, 0.021), (10.82, -0.29), (11.0, 0.024), (11.05, -0.323), (11.1, 0.093),
    (11.1, -0.242), (11.27, -0.308), (11.29, 0.038), (11.57, 0.067), (11.61, -0.281),
    (11.69, -0.308), (11.72, 0.077), (11.76, -0.281), (11.91, -0.39), (12.0, 0.041),
    (12.25, 0.132), (12.3, -0.287), (12.38, 0.16), (12.43, 0.175), (12.56, 0.145),
    (12.67, -0.321), (12.73, 0.168), (12.82, -0.406), (12.86, -0.326), (12.9, 0.16),
    (12.93, -0.346), (12.95, -0.307), (13.09, 0.217), (13.11, 0.264), (13.29, -0.321),
    (13.42, -0.281), (13.55, 0.181), (13.72, -0.307), (13.74, -0.366), (13.87, 0.179),
    (14.02, 0.179), (14.21, -0.262), (14.22, 0.2), (14.28, -0.244), (14.53, -0.213),
    (14.63, -0.4), (14.76, 0.132), (14.9, -0.296), (14.92, 0.132), (15.15, 0.132),
    (15.23, 0.256), (15.42, 0.166), (15.5, -0.16), (15.75, 0.14), (16.01, -0.276),
    (16.04, -0.185), (16.14, -0.2), (16.31, 0.094), (16.54, 0.083), (16.54, -0.208),
    (16.63, -0.16), (16.78, 0.117), (16.83, 0.174), (16.85, -0.097), (16.88, 0.098),
    (16.88, 0.047),
]

wage2_edge = [
    (9.12, 0.029), (9.37, -0.10), (9.58, 0.045), (9.66, 0.04), (9.74, 0.063),
    (9.68, -0.013), (9.86, 0.022), (9.85, -0.007), (9.74, -0.315), (9.93, -0.152),
    (9.98, 0.13), (10.06, -0.039), (10.21, -0.036), (10.08, -0.109), (10.18, -0.084),
    (10.06, -0.24), (10.11, -0.208), (10.28, 0.108), (10.34, 0.198), (10.31, -0.154),
    (10.36, -0.126), (10.31, -0.278), (10.36, -0.208), (10.41, -0.008), (10.5, -0.266),
    (10.5, -0.294), (10.53, -0.131), (10.57, -0.176), (10.67, 0.107), (10.74, -0.182),
    (10.85, -0.18), (11.0, 0.067), (11.04, 0.046), (11.1, 0.149), (11.04, -0.285),
    (11.07, -0.227), (11.24, -0.264), (11.29, 0.125), (11.4, -0.185), (11.66, 0.116),
    (11.71, 0.079), (11.69, -0.257), (11.69, -0.292), (11.91, -0.337), (12.01, -0.229),
    (12.12, -0.252), (12.26, 0.225), (12.46, 0.198), (12.43, 0.164), (12.39, -0.258),
    (12.5, -0.315), (12.5, -0.281), (12.7, 0.2), (12.8, -0.317), (12.87, -0.28),
    (12.93, -0.261), (12.95, -0.303), (13.02, -0.24), (12.92, 0.198), (13.1, 0.219),
    (13.23, 0.228), (13.02, 0.191), (13.3, -0.289), (13.42, -0.279), (13.74, -0.303),
    (13.77, -0.27), (13.71, -0.246), (13.84, 0.211), (13.86, 0.18), (13.53, 0.164),
    (13.72, 0.164), (13.95, -0.218), (14.21, -0.213), (14.51, -0.19), (14.61, -0.348),
    (14.72, 0.153), (14.91, -0.252), (14.91, -0.16), (15.23, 0.225), (15.13, 0.124),
    (15.65, -0.16), (16.0, -0.303), (16.04, -0.165), (16.09, 0.146), (16.22, -0.135),
    (16.54, -0.098), (16.63, -0.109), (16.79, 0.133), (16.86, 0.13), (16.88, 0.093),
    (16.53, 0.09),
]

wage3_edge = [
    (9.11, 0.035), (9.36, -0.067), (9.57, 0.088), (9.63, -0.028), (9.68, 0.046),
    (9.85, 0.046), (9.73, -0.258), (9.85, -0.01), (9.92, -0.115), (9.97, 0.11),
    (10.05, -0.004), (10.05, -0.21), (10.1, -0.188), (10.08, -0.061), (10.18, 0.018),
    (10.27, 0.06), (10.33, 0.211), (10.3, -0.128), (10.33, -0.154), (10.3, -0.225),
    (10.38, -0.09), (10.5, -0.294), (10.5, -0.21), (10.56, -0.137), (10.64, 0.082),
    (10.72, -0.188), (10.77, -0.199), (10.86, -0.124), (10.94, 0.104), (11.01, -0.227),
    (11.07, 0.185), (11.24, 0.101), (11.65, -0.249), (11.68, 0.133), (11.9, -0.285),
    (11.98, -0.188), (12.05, -0.224), (12.28, 0.124), (12.33, 0.14), (12.44, 0.172),
    (12.48, -0.244), (12.52, 0.169), (12.6, 0.18), (12.69, 0.206), (12.82, 0.189),
    (12.8, -0.261), (12.89, 0.169), (12.9, -0.278), (12.97, -0.244), (13.02, -0.247),
    (13.09, 0.303), (13.22, 0.153), (13.29, -0.244), (13.4, -0.227), (13.69, 0.228),
    (13.71, -0.278), (13.77, -0.263), (13.81, 0.275), (13.78, 0.157), (14.26, 0.189),
    (14.49, -0.21), (14.6, -0.292), (14.41, 0.133), (14.9, -0.148), (14.88, -0.233),
    (15.22, 0.284), (15.4, 0.198), (15.27, 0.097), (15.79, 0.11), (16.01, -0.266),
    (16.01, -0.148), (16.07, 0.138), (16.5, 0.124), (16.8, 0.164), (16.78, 0.138),
    (16.56, -0.117), (16.68, -0.115), (16.9, -0.064), (16.82, 0.071),
]

bonus1_edge = [
    (9.14, -0.174), (9.37, -1.15), (9.59, -0.77), (9.66, 0.62), (9.74, 0.73),
    (9.86, 0.56), (9.69, 0.275), (9.76, -0.73), (9.86, -0.41), (9.94, -0.59),
    (10.0, 0.3), (10.09, -0.59), (10.09, 0.23), (10.1, 0.12), (10.19, -0.21),
    (10.28, 0.18), (10.4, 0.53), (10.3, -0.74), (10.33, -0.96), (10.36, -0.51),
    (10.4, -0.16), (10.5, -0.95), (10.56, -1.08), (10.68, -0.79), (10.82, -1.23),
    (11.0, -1.24), (11.1, -1.28), (11.05, -0.73), (11.08, 0.32), (11.29, -1.15),
    (11.39, 0.36), (11.54, -1.11), (11.51, -0.93), (11.72, 0.35), (11.92, -1.36),
    (11.89, -0.89), (12.08, -1.59), (12.2, 0.49), (12.33, 0.65), (12.26, -1.07),
    (12.4, -1.23), (12.51, -1.07), (12.58, -1.09), (12.83, -1.31), (12.81, -0.95),
    (12.81, 0.48), (13.12, 0.69), (13.09, -1.17), (13.25, -1.08), (13.29, -1.31),
    (13.32, -1.83), (13.4, -1.75), (13.4, -1.45), (13.45, -1.17), (13.55, -1.27),
    (13.7, -1.24), (13.57, 0.55), (13.67, 0.47), (14.08, 0.49), (14.29, -0.87),
    (14.26, -1.02), (14.38, -1.05), (14.43, -1.21), (14.56, -0.53), (15.23, 0.65),
    (15.9, 0.44), (16.01, -1.25), (16.54, -1.79), (16.8, 0.32), (16.85, -0.69),
    (16.71, -0.41), (16.65, -0.31), (16.58, -0.55), (15.7, -0.87), (15.47, -0.83),
]

bonus2_edge = [
    (9.12, 0.0), (9.37, -1.01), (9.58, -0.65), (9.66, 0.56), (9.71, 0.43),
    (9.74, 0.77), (9.85, 0.81), (9.76, -0.75), (9.86, -0.22), (9.93, -0.49),
    (10.0, 0.25), (10.06, 0.39), (10.08, 0.3), (10.11, -0.27), (10.07, -0.4),
    (10.18, -0.06), (10.28, 0.25), (10.31, -0.65), (10.33, -0.88), (10.35, -0.38),
    (10.41, 0.61), (10.5, -0.79), (10.55, -1.03), (10.67, 0.44), (10.7, -0.66),
    (10.77, -0.66), (10.8, -0.91), (10.97, -1.06), (11.04, 0.37), (11.09, -1.01),
    (11.17, -0.65), (11.25, -1.0), (11.3, -0.51), (11.42, 0.33), (11.53, -0.76),
    (11.61, -0.8), (11.68, -0.8), (11.91, -0.77), (11.93, -1.32), (11.96, -1.41),
    (12.07, -1.32), (12.01, 0.51), (12.18, 0.68), (12.31, 0.72), (12.23, 0.53),
    (12.24, -0.91), (12.41, -1.2), (12.44, -0.78), (12.5, -1.06), (12.65, -0.93),
    (12.72, 0.5), (12.8, -1.01), (12.82, -0.87), (13.03, 0.49), (13.1, 0.57),
    (13.23, 0.49), (13.05, -0.87), (13.25, -1.06), (13.28, -1.08), (13.3, -1.7),
    (13.4, -1.52), (13.42, -1.32), (13.43, -1.24), (13.55, -1.31), (13.48, -0.87),
    (13.69, -1.03), (13.79, -0.87), (13.97, 0.55), (14.09, 0.52), (13.91, 0.4),
    (14.24, -0.88), (14.29, -0.77), (14.41, -0.84), (14.41, -1.03), (14.68, 0.55),
    (15.23, 0.6), (14.9, 0.43), (15.62, 0.4), (15.69, -0.8), (16.0, -1.31),
    (16.03, -0.65), (16.09, -0.61), (16.09, 0.68), (16.42, 0.4), (16.53, -0.43),
    (16.51, -1.41), (16.84, -0.55), (16.66, -0.37),
]

bonus3_edge = [
    (9.11, 0.02), (9.36, -0.92), (9.57, -0.57), (9.73, -0.58), (9.63, 0.44),
    (9.67, 0.61), (9.73, 0.8), (9.85, 0.82), (9.85, -0.15), (9.92, -0.39),
    (9.97, 0.19), (10.05, 0.5), (10.08, 0.43), (10.08, -0.2), (10.05, -0.33),
    (10.2, -0.03), (10.27, 0.2), (10.28, -0.49), (10.32, -0.8), (10.35, -0.26),
    (10.4, 0.74), (10.48, -0.64), (10.54, -0.91), (10.69, 0.38), (10.7, 0.44),
    (10.76, -0.97), (10.84, -0.31), (10.96, -0.94), (11.09, -0.86), (11.02, 0.39),
    (11.26, -0.81), (11.42, 0.43), (11.5, -0.65), (11.58, -0.78), (11.68, -0.6),
    (11.91, -1.19), (11.93, -1.28), (12.05, -1.25), (11.93, -0.71), (12.18, 0.69),
    (12.25, 0.71), (12.3, 0.81), (12.23, -0.83), (12.38, -1.08), (12.48, -0.97),
    (12.77, 0.58), (12.72, 0.56), (12.8, -0.86), (12.8, -0.8), (13.1, 0.82),
    (13.17, -0.7), (13.27, -0.95), (13.32, -1.58), (13.4, -1.61), (13.4, -1.11),
    (13.4, -1.17), (13.54, -1.19), (13.52, -0.89), (13.7, -0.97), (13.67, 0.56),
    (14.03, 0.625), (14.06, 0.51), (14.26, -0.71), (14.39, -0.81), (14.39, -0.89),
    (14.68, 0.55), (15.22, 0.75), (15.43, 0.44), (15.67, -0.78), (15.71, -0.61),
    (16.01, -1.24), (16.09, 0.66), (16.09, -0.48), (16.41, 0.46), (16.51, -1.47),
    (16.51, -0.4), (16.83, -0.44), (16.83, 0.32),
]

# Fitted regression lines, evaluated at the smallest and largest area
fit_x = [9.12, 16.95]
wage1_fit = [-0.147, 0.020]
wage2_fit = [-0.088, 0.016]
wage3_fit = [-0.053, 0.006]
bonus1_fit = [-0.348, 0.008]
bonus2_fit = [-0.168, 0.011]
bonus3_fit = [-0.074, -0.015]

x_ticks = [8, 10, 12, 14, 16, 18]
wage_ticks = [-0.4, -0.2, 0.0, 0.2, 0.4]
bonus_ticks = [-1.5, -1.0, -0.5, 0.0, 0.5, 1.0]

captions = [
    "(a) Relative Hourly Wage 1", "(b) Relative Hourly Wage 2", "(c) Relative Hourly Wage 3",
    "(d) Relative Bonuses 1", "(e) Relative Bonuses 2", "(f) Relative Bonuses 3",
]

DOT = "#1b4266"
FIT = "#8a2f33"
W, H = 1284, 751

sns.set_theme(style="ticks")
plt.rcParams["font.family"] = ["DejaVu Serif"]
plt.rcParams["axes.edgecolor"] = "black"
plt.rcParams["axes.linewidth"] = 0.9

fig = plt.figure(figsize=(W / 100, H / 100), dpi=100)

# pixel boxes (left, top, right, bottom) of each plotting area
boxes = [
    (62.7, 11.7, 413.0, 261.0), (491.7, 11.7, 842.0, 261.0), (921.7, 11.7, 1270.0, 261.0),
    (62.7, 401.7, 413.0, 651.0), (491.7, 401.7, 842.0, 651.0), (920.7, 402.3, 1270.0, 651.7),
]
caption_pos = [(209, 346), (638, 346), (1037, 346), (209, 737), (637, 737), (1031, 737)]

panels = [
    (wage1_core, wage1_edge, wage1_fit, (-0.425, 0.42), wage_ticks, "Log(Area Mean Relative Wage)"),
    (wage2_core, wage2_edge, wage2_fit, (-0.425, 0.42), wage_ticks, "Log(Area Mean Relative Wage)"),
    (wage3_core, wage3_edge, wage3_fit, (-0.425, 0.42), wage_ticks, "Log(Area Mean Relative Wage)"),
    (bonus1_core, bonus1_edge, bonus1_fit, (-1.90, 1.07), bonus_ticks, "Log(Area Mean Relative Bonus)"),
    (bonus2_core, bonus2_edge, bonus2_fit, (-1.77, 1.075), bonus_ticks, "Log(Area Mean Relative Bonus)"),
    (bonus3_core, bonus3_edge, bonus3_fit, (-1.68, 1.066), bonus_ticks, "Log(Area Mean Relative Bonus)"),
]

minus_fmt = FuncFormatter(lambda v, _: f"{v:.1f}".replace("-", "\u2212"))

for (core_y, edge, fit, ylim, yticks, ylabel), box, cap, cpos in zip(panels, boxes, captions, caption_pos):
    l, t, r, b = box
    ax = fig.add_axes([l / W, 1 - b / H, (r - l) / W, (b - t) / H])
    df = pd.DataFrame({
        "log_pop": core_x + [p[0] for p in edge],
        "value": core_y + [p[1] for p in edge],
    })
    sns.scatterplot(data=df, x="log_pop", y="value", ax=ax, s=16, color=DOT,
                    linewidth=0, edgecolor="none", legend=False, zorder=2)
    sns.lineplot(x=fit_x, y=fit, ax=ax, color=FIT, linewidth=1.9, zorder=3)

    ax.set_xlim(7.81, 18.21)
    ax.set_ylim(*ylim)
    ax.set_xticks(x_ticks)
    ax.set_yticks(yticks)
    ax.yaxis.set_major_formatter(minus_fmt)
    ax.tick_params(direction="out", length=3.3, width=0.9, labelsize=9.8,
                   colors="black", pad=3)
    ax.set_xlabel("Log(Population)", fontsize=9.5, labelpad=7, color="black")
    ax.set_ylabel(ylabel, fontsize=9.5, labelpad=5, color="black")
    sns.despine(ax=ax)

    fig.text(cpos[0] / W, 1 - cpos[1] / H, cap, ha="center", va="center",
             fontsize=18.5, family="Liberation Serif", color="#222222")

fig.savefig("out.png", dpi=100)
